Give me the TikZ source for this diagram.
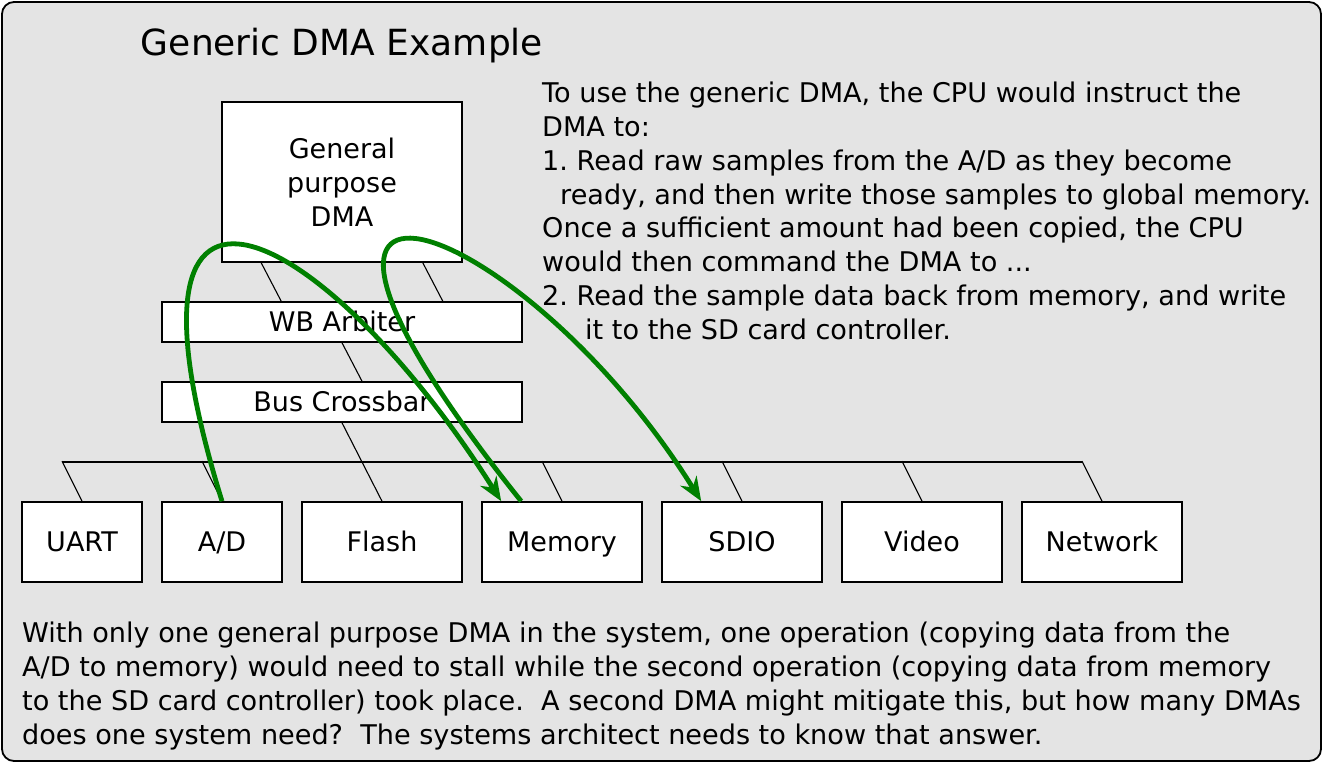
\documentclass[tikz,border=0pt]{standalone}
\usepackage{fontspec}
\setmainfont{DejaVu Sans}
\usepackage{tikz}
\usetikzlibrary{arrows.meta,positioning,calc}
\definecolor{dmagris}{RGB}{228,228,228}
\definecolor{dmavert}{RGB}{0,128,0}
\frenchspacing
\tikzset{
  unitbox/.style={
    rectangle, draw=black, fill=white, line width=1.6pt, inner sep=0pt,
    align=center, font=\fontsize{27}{33.8}\selectfont
  },
  periph/.style={unitbox, minimum width=160pt, minimum height=80pt,
    text height=22pt, text depth=4pt},
  barbox/.style={unitbox, minimum width=360pt, minimum height=40pt,
    text height=22pt, text depth=4pt},
  wire/.style={black, line width=1.1pt},
  busline/.style={black, line width=1.6pt},
  xfer/.style={-{Stealth[length=24pt,width=19pt]}, dmavert, line width=4.8pt},
  bodytext/.style={
    inner sep=0pt, align=left, font=\fontsize{27.1}{33.8}\selectfont
  }
}
\begin{document}
\begin{tikzpicture}[x=1pt, y=-1pt]
  \useasboundingbox (0,0) rectangle (1323,763);
  % Frame and title
  \draw[fill=dmagris, line width=1.8pt, rounded corners=12pt]
    (2,2) rectangle (1321,761);
  \node[font=\fontsize{36}{40}\selectfont, anchor=base, inner sep=0pt] (title)
    at (342,55) {Generic DMA Example};

  % DMA and bus blocks
  \node[unitbox, minimum width=240pt, minimum height=160pt] (dma) at (342,182)
    {General\\purpose\\DMA};
  \node[barbox] (wb)   at (342,322) {WB Arbiter};
  \node[barbox] (xbar) at (342,402) {Bus Crossbar};

  % Peripherals
  \node[periph, minimum width=120pt] (uart) at (82,542)  {UART};
  \node[periph, minimum width=120pt] (ad)   at (222,542) {A/D};
  \node[periph] (flash) at (382,542)  {Flash};
  \node[periph] (mem)   at (562,542)  {Memory};
  \node[periph] (sdio)  at (742,542)  {SDIO};
  \node[periph] (video) at (922,542)  {Video};
  \node[periph] (net)   at (1102,542) {Network};

  % Wires
  \coordinate (busL) at (62,462);
  \coordinate (busR) at (1082,462);
  \draw[busline] (busL) -- (busR);
  \draw[wire] ($(dma.south west)+(40,0)$) -- ($(wb.north west)+(120,0)$);
  \draw[wire] ($(dma.south east)+(-40,0)$) -- ($(wb.north east)+(-80,0)$);
  \draw[wire] (wb.south) -- ($(xbar.north)+(20,0)$);
  \draw[wire] (xbar.south) -- (flash.north);
  \foreach \p in {uart,ad,mem,sdio,video,net}
    \draw[wire] (\p.north) -- ++(-20,-40);

  % Transfers
  \draw[xfer] (ad.north) .. controls +(-125,-405) and +(-172,-272)
    .. ($(mem.north west)+(20,0)$);
  \draw[xfer] ($(mem.north west)+(40,0)$) .. controls +(-322,-402) and +(-182,-292)
    .. ($(sdio.north west)+(40,0)$);

  % Text
  \node[bodytext, anchor=north west] (steps) at (542,82) {%
    To use the generic DMA, the CPU would instruct the\\
    DMA to:\\
    1. Read raw samples from the A/D as they become\\
    \hspace*{18pt}ready, and then write those samples to global memory.\\
    Once a sufficient amount had been copied, the CPU\\
    would then command the DMA to ...\\
    2. Read the sample data back from memory, and write\\
    \hspace*{43pt}it to the SD card controller.};
  \node[bodytext, anchor=north west] (note) at (22,622) {%
    With only one general purpose DMA in the system, one operation (copying data from the\\
    A/D to memory) would need to stall while the second operation (copying data from memory\\
    to the SD card controller) took place.~ A second DMA might mitigate this, but how many DMAs\\
    does one system need?~ The systems architect needs to know that answer.};
\end{tikzpicture}
\end{document}
